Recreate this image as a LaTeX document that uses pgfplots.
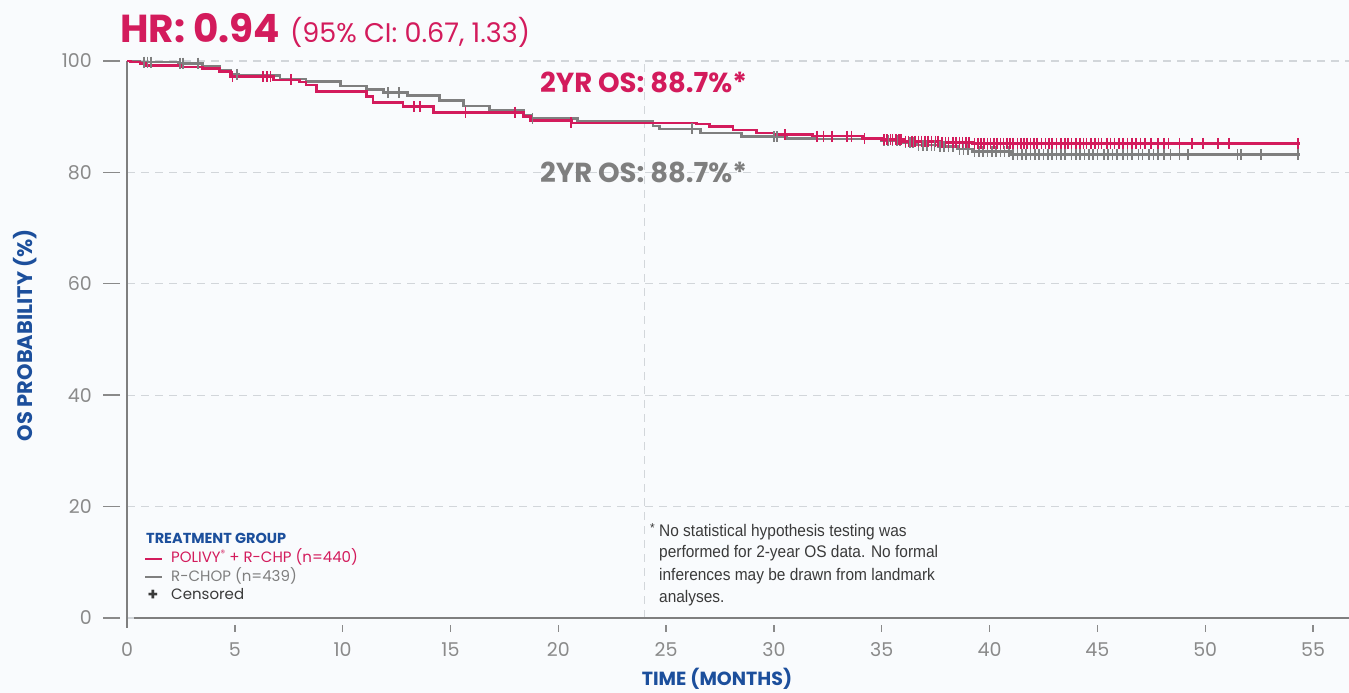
\documentclass[border=0pt]{standalone}
\usepackage{fontspec}
\setmainfont{Poppins}
\newfontfamily\narrowfont[FakeStretch=0.92]{Liberation Sans}
\usepackage{pgfplots}
\pgfplotsset{compat=1.18}
\definecolor{crim}{HTML}{D31B5C}
\definecolor{kmgray}{HTML}{7F7F7F}
\definecolor{navy}{HTML}{1C4F9C}
\definecolor{tickgray}{HTML}{8A8A8A}
\definecolor{gridc}{HTML}{D2D6DA}
\definecolor{bg}{HTML}{F9FBFD}
\definecolor{darktext}{HTML}{3A3A3A}
\begin{document}
\begin{tikzpicture}[x=1pt,y=1pt]
\useasboundingbox (0,0) rectangle (1349,693);
\fill[bg] (0,0) rectangle (1349,693);
\begin{axis}[
  at={(127pt,75pt)}, anchor=south west, scale only axis,
  width=1222pt, height=557pt,
  xmin=0, xmax=56.67, ymin=0, ymax=100,
  axis line style={draw=none}, major tick length=0pt,
  xtick={0,5,...,55}, ytick={0,20,...,100},
  ymajorgrids,
  grid style={gridc, dash pattern=on 8pt off 6pt, line width=1.2pt},
  tick label style={font=\fontsize{19}{19}\selectfont, text=tickgray, inner sep=0pt},
  x tick label style={anchor=base, yshift=-38pt},
  y tick label style={anchor=east, xshift=-35pt},
  /pgf/number format/assume math mode=true,
  xlabel={TIME (MONTHS)}, ylabel={OS PROBABILITY (\%)},
  xlabel style={font=\bfseries\fontsize{19}{19}\selectfont, text=navy, at={(axis description cs:0.4828,-0.1220)}, anchor=base},
  ylabel style={font=\bfseries\fontsize{21}{21}\selectfont, text=navy, at={(axis description cs:-0.0835,0.508)}, anchor=center},
  clip=false,
]
\draw[gridc, dash pattern=on 8pt off 6pt, line width=1.2pt] (axis cs:24,0) -- (axis cs:24,100);
\draw[kmgray, line width=1.6pt] (axis cs:0,100) -- (axis cs:0,-1.8);
\draw[kmgray, line width=1.6pt] (axis cs:0.32,0) -- (axis cs:56.67,0);
\pgfplotsinvokeforeach{5,10,...,55}{\draw[tickgray, line width=1.4pt] (axis cs:#1,0) ++(0,-7pt) -- ++(0,-7pt);}
\pgfplotsinvokeforeach{0,20,...,100}{\draw[tickgray, line width=1.4pt] (axis cs:0,#1) ++(-7pt,0) -- ++(-17pt,0);}

% R-CHOP
\addplot[const plot, kmgray, line width=2.6pt] coordinates {
(0,100) (0.6,99.8) (2.4,99.6) (3.5,99.0) (4.3,98.4) (4.8,97.6) (5.2,97.4) (7.1,96.8)
(8.3,96.3) (9.9,95.5) (11.1,94.9) (11.9,94.3) (13.0,93.8) (14.5,92.9) (15.6,91.9)
(16.8,91.2) (18.4,90.3) (18.7,89.7) (20.9,89.1) (24.4,88.3) (24.7,87.8) (26.6,87.1)
(28.5,86.4) (30.6,86.1) (32.0,86.0) (35.0,85.7) (36.0,85.4) (36.6,84.9) (37.6,84.6)
(38.5,84.2) (39.2,83.7) (41.0,83.2) (54.4,83.2)};
\addplot[only marks, mark=|, mark size=5.5pt, kmgray, mark options={line width=1.6pt}] coordinates {
(0.8,99.8) (0.95,99.8) (1.1,99.8) (2.45,99.6) (2.6,99.6) (3.3,99.6) (5.1,97.6)
(12.1,94.3) (12.6,94.3) (18.8,89.7) (26.2,87.8) (30.0,86.4) (30.15,86.4)
(35.1,85.7) (35.3,85.7) (35.5,85.7) (35.7,85.7) (35.85,85.7)
(36.1,85.4) (36.3,85.4) (36.45,85.4)
(36.7,84.9) (36.9,84.9) (37.1,84.9) (37.3,84.9) (37.45,84.9)
(37.7,84.6) (37.9,84.6) (38.1,84.6) (38.3,84.6)
(38.6,84.2) (38.8,84.2) (39.0,84.2)
(39.3,83.7) (39.5,83.7) (39.7,83.7) (39.9,83.7) (40.1,83.7) (40.3,83.7) (40.5,83.7) (40.7,83.7) (40.9,83.7)
(41.1,83.2) (41.3,83.2) (41.5,83.2) (41.7,83.2) (41.9,83.2) (42.1,83.2) (42.3,83.2) (42.5,83.2)
(42.7,83.2) (42.9,83.2) (43.1,83.2) (43.3,83.2) (43.5,83.2) (43.8,83.2) (44.0,83.2) (44.2,83.2)
(44.4,83.2) (44.6,83.2) (44.8,83.2) (45.0,83.2) (45.3,83.2) (45.5,83.2) (45.7,83.2) (45.9,83.2)
(46.2,83.2) (46.4,83.2) (46.6,83.2) (46.9,83.2) (47.1,83.2) (47.4,83.2) (47.6,83.2) (47.8,83.2)
(48.1,83.2) (48.4,83.2) (48.8,83.2) (49.2,83.2) (51.5,83.2) (51.65,83.2) (52.6,83.2) (54.3,83.2)};

% POLIVY + R-CHP
\addplot[const plot, crim, line width=2.6pt] coordinates {
(0,100) (0.15,99.8) (0.6,99.5) (0.9,99.2) (2.5,98.9) (3.5,98.6) (4.3,98.1) (4.8,97.2)
(6.8,96.6) (8.0,96.2) (8.3,95.7) (8.8,94.5) (11.1,93.6) (11.4,92.5) (12.8,91.8)
(14.2,90.8) (18.4,90.0) (18.7,89.3) (20.6,88.9) (26.4,88.7) (27.0,88.2) (28.1,87.6)
(29.2,87.1) (30.0,86.8) (31.8,86.5) (34.1,86.1) (35.0,85.9) (36.0,85.6) (37.7,85.4)
(39.2,85.2) (54.4,85.2)};
\addplot[only marks, mark=|, mark size=5.5pt, crim, mark options={line width=1.6pt}] coordinates {
(4.9,97.2) (6.3,97.2) (6.5,97.2) (6.65,97.2) (7.6,96.6) (13.3,91.8) (13.6,91.8)
(15.7,90.8) (18.0,90.8) (20.6,88.9) (30.5,86.8) (32.0,86.5) (32.3,86.5) (32.7,86.5)
(33.4,86.5) (33.6,86.5) (34.2,86.1)
(35.1,85.9) (35.25,85.9) (35.4,85.9) (35.5,85.9) (35.65,85.9) (35.8,85.9) (35.9,85.9)
(36.1,85.6) (36.25,85.6) (36.4,85.6) (36.55,85.6) (36.7,85.6) (36.85,85.6) (37.0,85.6)
(37.15,85.6) (37.3,85.6) (37.5,85.6) (37.6,85.6)
(37.8,85.4) (37.95,85.4) (38.1,85.4) (38.3,85.4) (38.45,85.4) (38.6,85.4) (38.75,85.4) (38.9,85.4) (39.05,85.4)
(39.3,85.2) (39.45,85.2) (39.6,85.2) (39.75,85.2) (39.9,85.2) (40.05,85.2) (40.2,85.2) (40.35,85.2)
(40.5,85.2) (40.65,85.2) (40.8,85.2) (40.95,85.2) (41.1,85.2) (41.3,85.2) (41.45,85.2) (41.6,85.2)
(41.75,85.2) (41.9,85.2) (42.05,85.2) (42.2,85.2) (42.4,85.2) (42.6,85.2) (42.75,85.2) (42.9,85.2)
(43.1,85.2) (43.3,85.2) (43.5,85.2) (43.65,85.2) (43.8,85.2) (44.0,85.2) (44.2,85.2) (44.35,85.2)
(44.5,85.2) (44.7,85.2) (44.9,85.2) (45.05,85.2) (45.2,85.2) (45.45,85.2) (45.6,85.2) (45.8,85.2)
(46.0,85.2) (46.2,85.2) (46.4,85.2) (46.6,85.2) (46.8,85.2) (47.0,85.2) (47.2,85.2) (47.5,85.2)
(47.8,85.2) (48.1,85.2) (48.3,85.2) (48.8,85.2) (49.4,85.2) (49.9,85.2) (50.6,85.2) (51.1,85.2) (54.3,85.2)};
\end{axis}

% titles
\node[anchor=base west, inner sep=0, font=\bfseries\fontsize{39}{39}\selectfont, text=crim] at (120,650) {HR: 0.94};
\node[anchor=base west, inner sep=0, font=\fontsize{27}{27}\selectfont, text=crim] at (290,650) {(95\% CI: 0.67, 1.33)};
\node[anchor=base west, inner sep=0, font=\bfseries\fontsize{27.5}{27.5}\selectfont, text=crim] at (540,600) {2YR OS: 88.7\%*};
\node[anchor=base west, inner sep=0, font=\bfseries\fontsize{27.5}{27.5}\selectfont, text=kmgray] at (540,510) {2YR OS: 88.7\%*};

% legend
\node[anchor=base west, inner sep=0, font=\bfseries\fontsize{14.5}{14.5}\selectfont, text=navy] at (146,149) {TREATMENT GROUP};
\draw[crim, line width=1.2pt] (145,134) -- (162,134);
\node[anchor=base west, inner sep=0, font=\fontsize{15}{15}\selectfont, text=crim] at (171,130) {POLIVY\raisebox{0.45em}{\fontsize{9}{9}\selectfont ®} + R-CHP (n=440)};
\draw[kmgray, line width=1.2pt] (145,116) -- (162,116);
\node[anchor=base west, inner sep=0, font=\fontsize{15}{15}\selectfont, text=kmgray] at (171,111) {R-CHOP (n=439)};
\node[anchor=center, inner sep=0, font=\bfseries\fontsize{17}{17}\selectfont, text=darktext] at (153,98) {+};
\node[anchor=base west, inner sep=0, font=\fontsize{15}{15}\selectfont, text=darktext] at (171,93) {Censored};

% footnote
\node[anchor=base west, inner sep=0, font=\narrowfont\fontsize{13}{13}\selectfont, text=darktext] at (650,160) {*};
\node[anchor=base west, inner sep=0, font=\narrowfont\fontsize{16.8}{16.8}\selectfont, text=darktext] at (659,156) {No statistical hypothesis testing was};
\node[anchor=base west, inner sep=0, font=\narrowfont\fontsize{16.8}{16.8}\selectfont, text=darktext] at (659,135) {performed for 2-year OS data. No formal};
\node[anchor=base west, inner sep=0, font=\narrowfont\fontsize{16.8}{16.8}\selectfont, text=darktext] at (659,112) {inferences may be drawn from landmark};
\node[anchor=base west, inner sep=0, font=\narrowfont\fontsize{16.8}{16.8}\selectfont, text=darktext] at (659,90) {analyses.};
\end{tikzpicture}
\end{document}
